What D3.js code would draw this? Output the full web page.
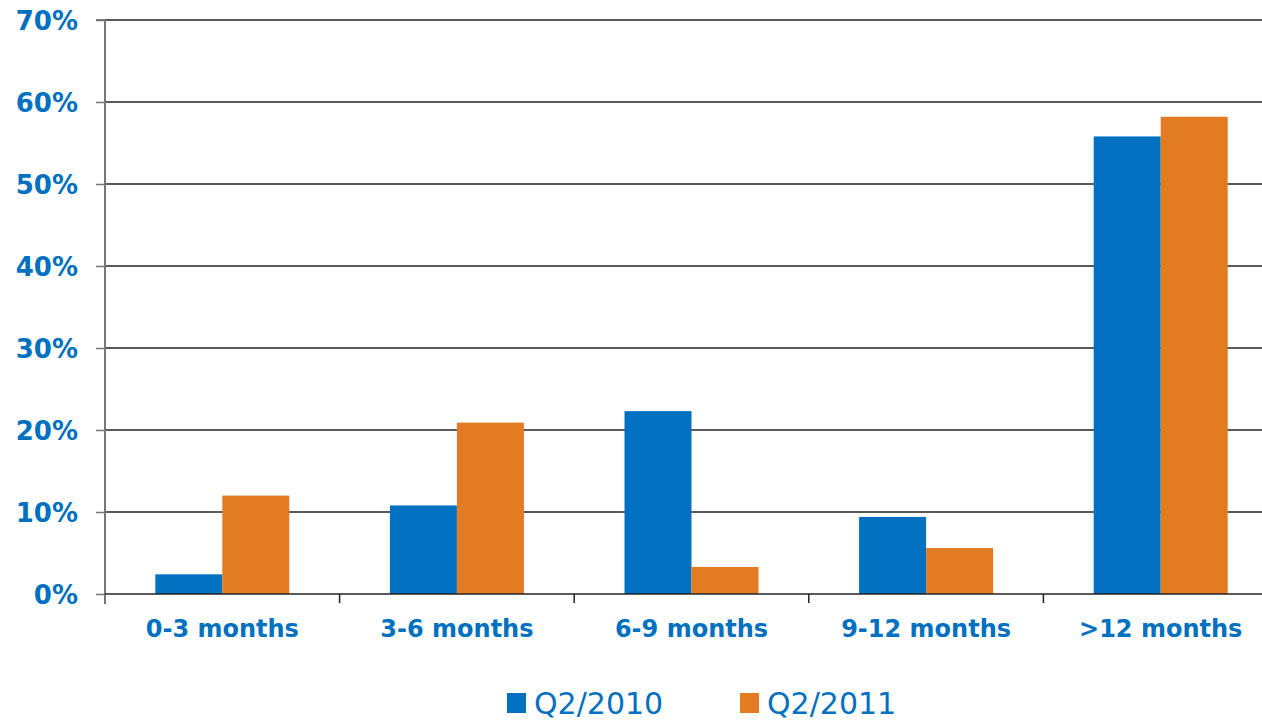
<!DOCTYPE html>
<html><head><meta charset="utf-8">
<script src="https://cdn.jsdelivr.net/npm/d3@7"></script>
<style>body{margin:0;background:#fff}svg{display:block}</style>
</head><body>
<svg id="c" width="1262" height="721"></svg>
<script>
const categories = ["0-3 months","3-6 months","6-9 months","9-12 months",">12 months"];
const seriesNames = ["Q2/2010","Q2/2011"];
const q2010 = [2.4, 10.8, 22.3, 9.4, 55.8];
const q2011 = [12.0, 20.9, 3.3, 5.6, 58.2];
const yTicks = [0,10,20,30,40,50,60,70];
const colors = ["#0070C0","#E37B22"];

(function(){
const svg = d3.select("#c");
const mLeft = 105, mRight = 1278, mTop = 20, mBottom = 594;
const x = d3.scaleBand().domain(categories).range([mLeft, mRight]).padding(0);
const y = d3.scaleLinear().domain([0,70]).range([mBottom, mTop]);
const barW = 67;
const xs = d3.scaleBand().domain(seriesNames).range([-barW, barW]);

// gridlines
svg.append("g").selectAll("line").data(yTicks.filter(d=>d>0)).join("line")
  .attr("x1", mLeft).attr("x2", 1262).attr("y1", d=>y(d)).attr("y2", d=>y(d))
  .attr("stroke", "#222").attr("stroke-width", 1.3);

// bars
const data = categories.map((c,i)=>({c, vals:[q2010[i], q2011[i]]}));
const g = svg.append("g").selectAll("g").data(data).join("g")
  .attr("transform", d=>`translate(${x(d.c)+x.bandwidth()/2},0)`);
g.selectAll("rect").data(d=>d.vals.map((v,j)=>({v, s:seriesNames[j], j}))).join("rect")
  .attr("x", d=>xs(d.s)).attr("width", xs.bandwidth())
  .attr("y", d=>y(d.v)).attr("height", d=>y(0)-y(d.v))
  .attr("fill", d=>colors[d.j]);

// y axis
const yAxis = d3.axisLeft(y).tickValues(yTicks).tickSize(9).tickFormat(d=>d+"%");
const ya = svg.append("g").attr("transform", `translate(${mLeft},0)`).call(yAxis);
ya.select(".domain").attr("stroke", "#777").attr("stroke-width", 2).attr("d", `M-9,${mTop}H0V${mBottom+10}`);
ya.selectAll(".tick line").attr("stroke", "#777").attr("stroke-width", 1.5);
ya.selectAll(".tick text").attr("x", -27).attr("dy", "0.36em")
  .attr("fill", "#0070C0").attr("font-family", "DejaVu Sans, Verdana, sans-serif")
  .attr("font-weight", "bold").attr("font-size", 26);

// x axis
const xa = svg.append("g").attr("transform", `translate(0,${mBottom})`);
xa.append("line").attr("x1", mLeft).attr("x2", 1262).attr("y1", 0).attr("y2", 0)
  .attr("stroke", "#222").attr("stroke-width", 1.5);
xa.selectAll("line.t").data(categories.slice(1)).join("line").attr("class","t")
  .attr("x1", d=>x(d)).attr("x2", d=>x(d)).attr("y1", 0).attr("y2", 9)
  .attr("stroke", "#222").attr("stroke-width", 1.5);
xa.selectAll("text").data(categories).join("text")
  .attr("x", d=>x(d)+x.bandwidth()/2).attr("y", 43)
  .attr("text-anchor", "middle").attr("fill", "#0070C0")
  .attr("font-family", "DejaVu Sans, Verdana, sans-serif")
  .attr("font-weight", "bold").attr("font-size", 24).text(d=>d);

// legend
const legX = [507, 740];
const lg = svg.append("g").selectAll("g").data(seriesNames).join("g")
  .attr("transform", (d,i)=>`translate(${legX[i]},0)`);
lg.append("rect").attr("x",0).attr("y",693).attr("width",19).attr("height",20).attr("fill",(d,i)=>colors[i]);
lg.append("text").attr("x",27).attr("y",714).attr("fill","#0070C0")
  .attr("font-family","DejaVu Sans, Verdana, sans-serif").attr("font-size",30).text(d=>d);
})();
</script>
</body></html>
